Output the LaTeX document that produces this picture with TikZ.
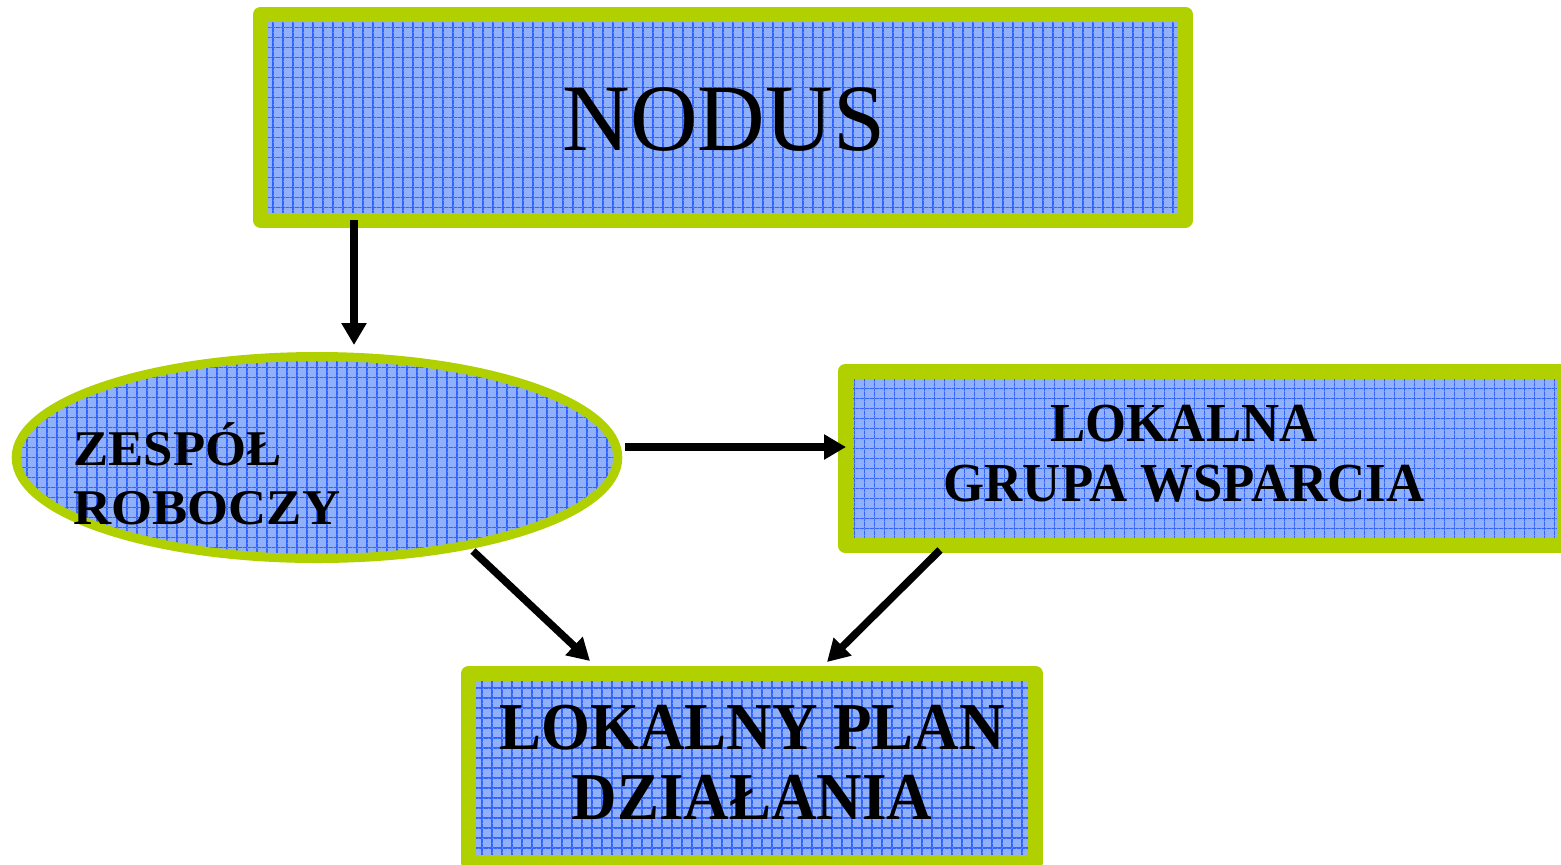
\documentclass[tikz,border=0pt]{standalone}
\usepackage{fontspec}
\setmainfont{Liberation Serif}
\newfontfamily\nodusfont[FakeStretch=0.985]{Liberation Serif}
\newfontfamily\grupafont[FakeStretch=0.96]{Liberation Serif}
\newfontfamily\planfont[FakeStretch=0.94]{Liberation Serif}
\newfontfamily\zespfont[FakeStretch=1.055]{Liberation Serif}
\usetikzlibrary{shapes.geometric,arrows.meta,calc}
\definecolor{framegreen}{RGB}{176,208,0}
\definecolor{baseblue}{RGB}{145,176,250}
\definecolor{gridblue}{RGB}{50,100,252}
\tikzset{
  gridfill/.style={fill=baseblue,
    path picture={
      \draw[gridblue, line width=0.6pt] (path picture bounding box.south west) grid[step=5pt] (path picture bounding box.north east);
      \draw[white, opacity=0.25, line width=0.4pt, dotted, shift={(2.5pt,2.5pt)}] (path picture bounding box.south west) grid[step=5pt] (path picture bounding box.north east);
    }},
  boxshape/.style={rectangle, draw=framegreen, line width=7.5pt, line join=round, gridfill, inner sep=0pt, outer sep=0pt},
  ovalshape/.style={ellipse, draw=framegreen, line width=4.5pt, gridfill, inner sep=0pt, outer sep=0pt},
  label text/.style={inner sep=0pt, text=black},
  arr/.style={line width=3.75pt, black, -{Triangle[length=11pt,width=12pt]}},
}
\begin{document}
\begin{tikzpicture}[x=0.5pt, y=-0.5pt]
\useasboundingbox (0,0) rectangle (1561,864);
\clip (0,0) rectangle (1561,864);
\fill[white] (0,0) rectangle (1561,864);

% shapes
\node[boxshape, minimum width=462.5pt, minimum height=102.75pt] (top) at (723,117.25) {};
\node[ovalshape, minimum width=300.8pt, minimum height=101pt] (zr) at (317,457.5) {};
\node[boxshape, minimum width=359.75pt, minimum height=87pt] (lgw) at (1204.75,458.5) {};
\node[boxshape, minimum width=283.5pt, minimum height=94.5pt] (lpd) at (752,768) {};

% texts
\node[label text, anchor=base, font=\nodusfont\fontsize{47.5pt}{50pt}\selectfont] (tnodus) at (724,150) {NODUS};
\node[label text, anchor=south west, align=left, font=\zespfont\bfseries\fontsize{25pt}{29.5pt}\selectfont] (tzr) at (73,525) {ZESPÓŁ\\ROBOCZY};
\node[label text, anchor=south, align=center, font=\grupafont\bfseries\fontsize{27.5pt}{30pt}\selectfont] (tlgw) at (1184,502.5) {LOKALNA\\GRUPA WSPARCIA};
\node[label text, anchor=south, align=center, font=\planfont\bfseries\fontsize{33.5pt}{35pt}\selectfont] (tlpd) at (752,820.5) {LOKALNY PLAN\\DZIAŁANIA};

% connectors
\draw[arr] ([xshift=46.75pt]top.south west) -- ([xshift=18.5pt,yshift=5.75pt]zr.north);
\draw[arr] ([xshift=3.6pt,yshift=5.25pt]zr.east) -- ([xshift=0.5pt,yshift=5.75pt]lgw.west);
\draw[arr] ([xshift=78pt,yshift=-46.75pt]zr.center) -- ([xshift=60.75pt,yshift=6.25pt]lpd.north west);
\draw[arr] ([xshift=47.5pt,yshift=-2.25pt]lgw.south west) -- ([xshift=179.25pt,yshift=5.75pt]lpd.north west);
\end{tikzpicture}
\end{document}
